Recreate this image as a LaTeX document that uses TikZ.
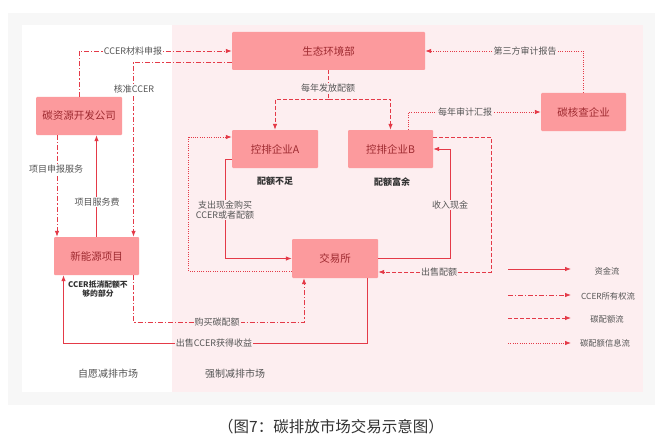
\documentclass[tikz,border=0pt]{standalone}
\usepackage{fontspec}
\setmainfont{Noto Sans CJK SC}
\usetikzlibrary{arrows.meta}
\definecolor{nodefill}{HTML}{FC9A9D}
\definecolor{nodetext}{HTML}{9E2A30}
\definecolor{linered}{HTML}{E43A48}
\definecolor{pinkbg}{HTML}{FDEEF0}
\definecolor{graybg}{HTML}{F7F7F7}
\definecolor{labeltext}{HTML}{555555}
\tikzset{
  box/.style={draw=none,fill=nodefill,rounded corners=1pt,text=nodetext,font=\fontsize{10.5}{12}\selectfont,minimum height=38pt,inner sep=0pt},
  flow/.style={draw=linered,line width=0.8pt,-{Latex[length=6pt,width=4.5pt]}},
  money/.style={flow},
  ccer/.style={flow,dash pattern=on 5pt off 2pt on 1.2pt off 2pt},
  quota/.style={flow,dash pattern=on 4pt off 2pt},
  info/.style={flow,dash pattern=on 1pt off 1.3pt},
  lab/.style={text=labeltext,font=\fontsize{9}{11}\selectfont,fill=pinkbg,inner sep=1pt},
  labw/.style={lab,fill=white},
  note/.style={text=black!80,font=\bfseries\fontsize{9}{11}\selectfont,inner sep=0pt},
  leg/.style={text=labeltext,font=\fontsize{8.3}{10}\selectfont,inner sep=0pt},
}
\begin{document}
\begin{tikzpicture}[x=1pt,y=-1pt]
\useasboundingbox (0,0) rectangle (666,441);
\fill[white] (0,0) rectangle (666,441);
\fill[graybg] (8,13) rectangle (655,405);
\fill[white] (22,25) rectangle (172,392);
\fill[pinkbg] (172,25) rectangle (643,392);

% nodes
\node[box,minimum width=193pt] (sty) at (328.5,51) {生态环境部};
\node[box,minimum width=86pt] (tan) at (79,116) {碳资源开发公司};
\node[box,minimum width=86pt] (qa) at (275,149) {控排企业A};
\node[box,minimum width=85pt] (qb) at (390.5,149) {控排企业B};
\node[box,minimum width=85pt] (hc) at (583.5,112) {碳核查企业};
\node[box,minimum width=85pt] (xny) at (96.5,256) {新能源项目};
\node[box,minimum width=86pt,minimum height=39pt] (jy) at (335,258.5) {交易所};

\node[note] (na) at (275,181) {配额不足};
\node[note] (nb) at (392,182) {配额富余};
\node[note,font=\bfseries\fontsize{7.8}{9}\selectfont,align=center] (nx) at (98,289) {CCER抵消配额不\\够的部分};

% connectors
\draw[ccer] (tan.north) |- (sty.west);
\node[labw] (l1) at (133,51) {CCER材料申报};

\draw[ccer] ([yshift=-11pt]sty.west) -| ([xshift=37pt]xny.north);
\node[labw] (l2) at (134,89) {核准CCER};

\draw[ccer] ([xshift=-22pt]tan.south) -- ([xshift=-22pt]tan.south |- xny.north);
\node[labw] (l3) at (56,169) {项目申报服务};

\draw[money] (xny.north) -- (xny.north |- tan.south);
\node[labw] (l4) at (97,202) {项目服务费};

\coordinate (fa) at ([yshift=-29pt]sty.south);
\draw[quota,-] (sty.south) -- (fa);
\draw[quota] (fa) -| (qa.north);
\draw[quota] (fa) -| (qb.north);
\node[lab] (l5) at (328,88) {每年发放配额};

\draw[info] (hc.north) |- (sty.east);
\node[lab] (l6) at (525,51) {第三方审计报告};

\draw[info] ([xshift=18pt]qb.north) |- (hc.west);
\node[lab] (l7) at (465,112) {每年审计汇报};

\draw[info] ([yshift=-13pt]jy.west) -- ++(-103,0) |- ([yshift=12pt]qa.west);

\draw[money] ([yshift=-10pt]qa.west) -- ++(-6,0) |- (jy.west);
\node[lab,align=center,font=\fontsize{9}{10.5}\selectfont] (l8) at (225,210) {支出现金购买\\CCER或者配额};

\draw[money] (jy.east) -- ++(72,0) |- (qb.east);
\node[lab] (l9) at (450,205) {收入现金};

\draw[quota] ([yshift=12pt]qb.east) -- ++(58,0) |- ([yshift=-13.5pt]jy.east);
\node[lab] (l10) at (439,272) {出售配额};

\draw[ccer] ([xshift=37pt]xny.south) -- ++(0,47) -| ([xshift=-31pt]jy.south);
\node[lab] (l11) at (217,322) {购买碳配额};

\draw[money] ([xshift=32pt]jy.south) -- ++(0,65) -| ([xshift=-33pt]xny.south);
\node[lab] (l12) at (214,343) {出售CCER获得收益};

% legend
\coordinate (a1) at (508,269); \coordinate (b1) at (571,269);
\coordinate (a2) at (508,295); \coordinate (b2) at (571,295);
\coordinate (a3) at (508,318); \coordinate (b3) at (571,318);
\coordinate (a4) at (508,343); \coordinate (b4) at (571,343);
\draw[money] (a1) -- (b1);
\draw[ccer] (a2) -- (b2);
\draw[quota] (a3) -- (b3);
\draw[info] (a4) -- (b4);
\node[leg] (g1) at (607,271) {资金流};
\node[leg] (g2) at (608,296) {CCER所有权流};
\node[leg] (g3) at (607,319) {碳配额流};
\node[leg] (g4) at (605,343) {碳配额信息流};

% regions
\node[text=labeltext,font=\fontsize{10}{12}\selectfont] (r1) at (108,374) {自愿减排市场};
\node[text=labeltext,font=\fontsize{10}{12}\selectfont] (r2) at (235,374) {强制减排市场};

% caption
\node[text=black!80,font=\fontsize{15.5}{18}\selectfont] (cap) at (331,427) {（图7：碳排放市场交易示意图）};
\end{tikzpicture}
\end{document}
